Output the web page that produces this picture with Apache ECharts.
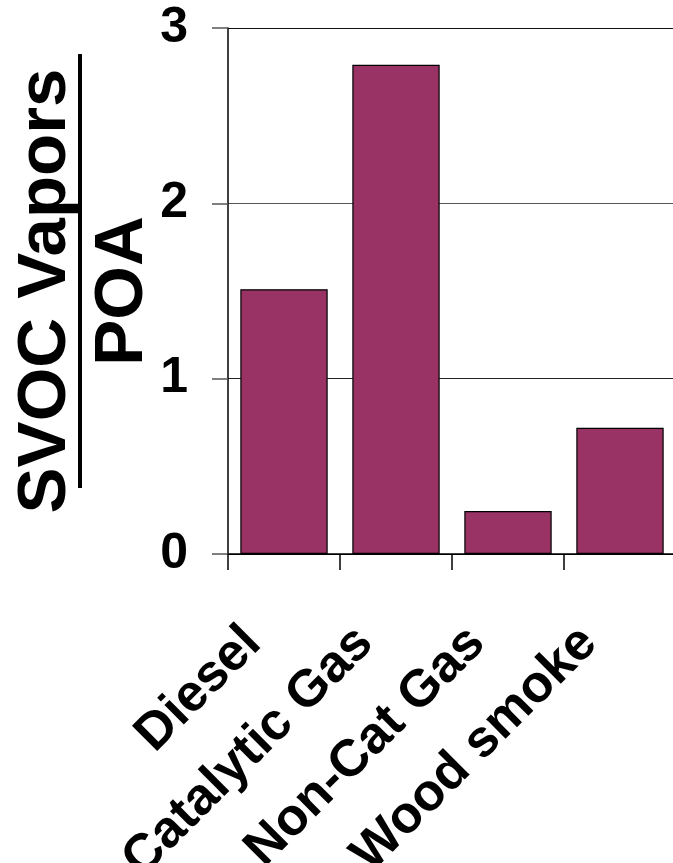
<!DOCTYPE html>
<html>
<head>
<meta charset="utf-8">
<title>SVOC Vapors / POA</title>
<script src="https://cdn.jsdelivr.net/npm/echarts@6/dist/echarts.min.js"></script>
<style>
  html, body { margin: 0; padding: 0; background: #fff; }
  #chart { width: 673px; height: 863px; }
</style>
</head>
<body>
<div id="chart"></div>
<script>
// Ratio of semi-volatile vapors to primary organic aerosol by source
const categories = ['Diesel', 'Catalytic Gas', 'Non-Cat Gas', 'Wood smoke'];
const ratioValues = [1.51, 2.79, 0.245, 0.72];
const yTicks = [0, 1, 2, 3];

const FONT = '"Liberation Sans", Arial, Helvetica, sans-serif';

const chart = echarts.init(document.getElementById('chart'), null, { renderer: 'canvas' });

chart.setOption({
  animation: false,
  backgroundColor: '#ffffff',
  grid: {
    left: 228, top: 28, right: -3, bottom: 309,
    containLabel: false,
    outerBoundsMode: 'none'
  },
  xAxis: {
    type: 'category',
    data: categories,
    boundaryGap: true,
    axisLine: { show: true, lineStyle: { color: '#000', width: 1.5 } },
    axisTick: { show: true, length: 16, inside: false, lineStyle: { color: '#000', width: 1.5 } },
    axisLabel: {
      interval: 0,
      rotate: 45,
      margin: 50,
      padding: [0, 44, 0, 0],
      color: '#000',
      fontFamily: FONT,
      fontWeight: 'bold',
      fontSize: 52
    },
    splitLine: { show: false }
  },
  yAxis: {
    type: 'value',
    min: yTicks[0],
    max: yTicks[yTicks.length - 1],
    interval: 1,
    name: 'SVOC Vapors\nPOA',
    nameLocation: 'middle',
    nameRotate: 90,
    nameGap: 67,
    nameMoveOverlap: false,
    nameTextStyle: {
      color: '#000',
      fontFamily: FONT,
      fontWeight: 'bold',
      fontSize: 69,
      lineHeight: 77,
      align: 'center'
    },
    axisLine: { show: true, lineStyle: { color: '#000', width: 1.5 } },
    axisTick: { show: true, length: 16, inside: false, lineStyle: { color: '#555', width: 1.5 } },
    axisLabel: {
      margin: 40,
      color: '#000',
      fontFamily: FONT,
      fontWeight: 'bold',
      fontSize: 50
    },
    splitLine: { show: true, lineStyle: { color: ['#000', '#222', '#555', '#111'], width: 1 } }
  },
  series: [{
    type: 'bar',
    data: ratioValues,
    barCategoryGap: '22%',
    itemStyle: { color: '#993366', borderColor: '#000', borderWidth: 1.2 }
  }],
  graphic: [{
    // fraction bar between numerator and denominator of the axis title
    type: 'rect',
    shape: { x: 78, y: 54, width: 4, height: 434 },
    style: { fill: '#000' }
  }]
});
</script>
</body>
</html>
